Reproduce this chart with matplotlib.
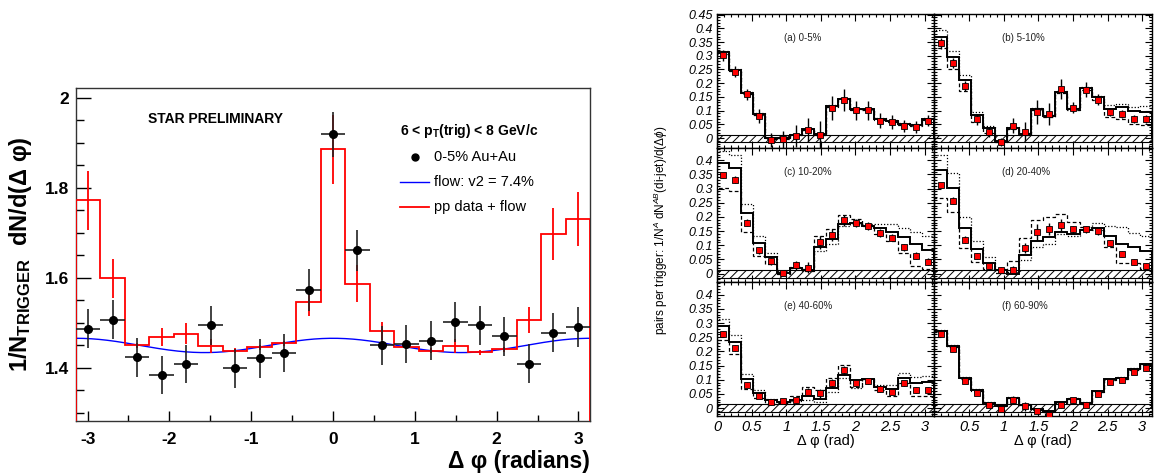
import numpy as np
import matplotlib.pyplot as plt
from matplotlib.ticker import MultipleLocator, FixedLocator, FuncFormatter

plt.rcParams['font.family'] = ['Liberation Sans', 'DejaVu Sans']
plt.rcParams['mathtext.fontset'] = 'custom'
plt.rcParams['mathtext.rm'] = 'Liberation Sans'
plt.rcParams['mathtext.it'] = 'Liberation Sans:italic'
plt.rcParams['mathtext.bf'] = 'Liberation Sans:bold'
plt.rcParams['hatch.linewidth'] = 0.7

# ---- left panel: 0-5% Au+Au, 6 < pT(trig) < 8 GeV/c, 21 bins over [-pi, pi]
auau_y = [1.487, 1.507, 1.423, 1.383, 1.408, 1.494, 1.399, 1.421, 1.433, 1.573, 1.919,
          1.661, 1.450, 1.453, 1.460, 1.502, 1.494, 1.470, 1.409, 1.478, 1.491]
auau_err = [0.043, 0.044, 0.043, 0.042, 0.043, 0.043, 0.043, 0.043, 0.043, 0.046, 0.050,
            0.046, 0.043, 0.043, 0.043, 0.045, 0.043, 0.043, 0.043, 0.043, 0.045]
pp_flow_y = [1.772, 1.599, 1.450, 1.469, 1.476, 1.448, 1.438, 1.445, 1.454, 1.545, 1.885,
             1.587, 1.482, 1.447, 1.438, 1.448, 1.434, 1.441, 1.506, 1.697, 1.730]
pp_flow_err = [0.065, 0.043, 0.006, 0.020, 0.023, 0.015, 0.006, 0.006, 0.006, 0.030, 0.077,
               0.042, 0.020, 0.006, 0.006, 0.015, 0.006, 0.006, 0.028, 0.057, 0.060]
flow_v2 = 0.074
flow_base = 1.4495

# ---- right panels: di-jet pairs per trigger, 18 bins over [0, pi]
a_data = [0.301, 0.242, 0.160, 0.081, -0.008, -0.005, 0.008, 0.030, 0.012, 0.110, 0.139,
          0.101, 0.101, 0.064, 0.060, 0.044, 0.040, 0.064]
a_err = [0.02, 0.02, 0.02, 0.025, 0.025, 0.03, 0.04, 0.045, 0.05, 0.045, 0.04, 0.035,
         0.035, 0.027, 0.025, 0.022, 0.022, 0.02]
a_model = [0.312, 0.248, 0.165, 0.087, 0.0, 0.0, 0.012, 0.032, 0.014, 0.117, 0.143,
           0.105, 0.105, 0.069, 0.063, 0.050, 0.048, 0.071]
a_upper = [0.318, 0.252, 0.169, 0.090, 0.002, 0.002, 0.014, 0.034, 0.016, 0.119, 0.145,
           0.107, 0.107, 0.072, 0.066, 0.054, 0.052, 0.075]
a_lower = [0.306, 0.244, 0.161, 0.084, -0.002, -0.002, 0.010, 0.030, 0.012, 0.115, 0.141,
           0.103, 0.103, 0.066, 0.060, 0.046, 0.044, 0.067]

b_data = [0.345, 0.274, 0.190, 0.069, 0.021, -0.014, 0.045, 0.023, 0.095, 0.089, 0.179,
          0.111, 0.177, 0.139, 0.095, 0.087, 0.069, 0.069]
b_err = [0.02, 0.018, 0.018, 0.02, 0.018, 0.015, 0.027, 0.035, 0.045, 0.04, 0.037, 0.02,
         0.028, 0.02, 0.015, 0.015, 0.015, 0.015]
b_model = [0.369, 0.295, 0.211, 0.083, 0.036, -0.010, 0.038, 0.014, 0.107, 0.081, 0.167,
           0.107, 0.181, 0.149, 0.107, 0.113, 0.098, 0.095]
b_upper = [0.393, 0.318, 0.229, 0.095, 0.043, -0.006, 0.041, 0.017, 0.110, 0.084, 0.170,
           0.111, 0.185, 0.155, 0.119, 0.125, 0.115, 0.117]
b_lower = [0.330, 0.252, 0.173, 0.060, 0.018, -0.013, 0.034, 0.011, 0.103, 0.077, 0.163,
           0.102, 0.176, 0.140, 0.077, 0.069, 0.050, 0.048]

c_data = [0.346, 0.331, 0.180, 0.082, 0.043, 0.002, 0.029, 0.021, 0.110, 0.136, 0.188,
          0.178, 0.167, 0.143, 0.126, 0.093, 0.063, 0.041]
c_err = [0.01, 0.012, 0.012, 0.012, 0.012, 0.012, 0.015, 0.018, 0.023, 0.02, 0.02, 0.015,
         0.015, 0.015, 0.012, 0.012, 0.012, 0.012]
c_model = [0.390, 0.373, 0.215, 0.107, 0.058, 0.003, 0.021, 0.012, 0.093, 0.122, 0.173,
           0.177, 0.168, 0.161, 0.146, 0.128, 0.103, 0.084]
c_upper = [0.434, 0.420, 0.247, 0.134, 0.072, 0.005, 0.024, 0.015, 0.079, 0.105, 0.166,
           0.175, 0.175, 0.173, 0.173, 0.161, 0.146, 0.131]
c_lower = [0.301, 0.292, 0.147, 0.062, 0.033, -0.003, 0.018, 0.009, 0.131, 0.157, 0.206,
           0.192, 0.167, 0.138, 0.114, 0.072, 0.026, 0.017]

d_data = [0.311, 0.257, 0.120, 0.061, 0.027, 0.014, 0.014, 0.089, 0.146, 0.157, 0.171,
          0.156, 0.156, 0.149, 0.108, 0.068, 0.041, 0.027]
d_err = [0.01, 0.012, 0.012, 0.01, 0.01, 0.01, 0.012, 0.018, 0.027, 0.02, 0.02, 0.012,
         0.012, 0.012, 0.01, 0.01, 0.01, 0.01]
d_model = [0.366, 0.303, 0.160, 0.087, 0.038, 0.012, 0.000, 0.064, 0.114, 0.128, 0.148,
           0.138, 0.154, 0.161, 0.134, 0.105, 0.093, 0.079]
d_upper = [0.420, 0.356, 0.198, 0.114, 0.058, 0.017, 0.004, 0.047, 0.095, 0.105, 0.138,
           0.131, 0.157, 0.177, 0.166, 0.163, 0.142, 0.134]
d_lower = [0.266, 0.216, 0.090, 0.041, 0.017, 0.002, 0.043, 0.126, 0.189, 0.198, 0.210,
           0.181, 0.163, 0.154, 0.093, 0.037, 0.037, 0.017]

e_data = [0.263, 0.211, 0.083, 0.042, 0.020, 0.025, 0.027, 0.058, 0.052, 0.087, 0.133,
          0.089, 0.095, 0.068, 0.058, 0.087, 0.064, 0.064]
e_err = [0.01, 0.01, 0.01, 0.008, 0.008, 0.008, 0.01, 0.012, 0.015, 0.015, 0.015, 0.01,
         0.01, 0.01, 0.01, 0.01, 0.01, 0.01]
e_model = [0.291, 0.234, 0.101, 0.053, 0.027, 0.020, 0.027, 0.044, 0.032, 0.071, 0.116,
           0.099, 0.101, 0.075, 0.068, 0.107, 0.089, 0.091]
e_upper = [0.315, 0.259, 0.121, 0.065, 0.032, 0.022, 0.024, 0.030, 0.020, 0.056, 0.107,
           0.071, 0.103, 0.083, 0.083, 0.125, 0.110, 0.113]
e_lower = [0.240, 0.190, 0.068, 0.036, 0.015, 0.018, 0.042, 0.075, 0.063, 0.107, 0.151,
           0.075, 0.101, 0.065, 0.042, 0.089, 0.042, 0.042]

f_data = [0.261, 0.208, 0.097, 0.053, 0.011, -0.002, 0.030, 0.006, -0.009, -0.025, 0.012,
          0.027, 0.011, 0.051, 0.091, 0.100, 0.127, 0.140]
f_err = [0.008, 0.008, 0.008, 0.008, 0.008, 0.008, 0.012, 0.015, 0.01, 0.008, 0.01, 0.01,
         0.008, 0.008, 0.008, 0.008, 0.008, 0.008]
f_model = [0.273, 0.220, 0.107, 0.063, 0.018, 0.008, 0.036, 0.012, -0.004, -0.012, 0.020,
           0.033, 0.018, 0.059, 0.101, 0.107, 0.139, 0.154]
f_upper = [0.277, 0.224, 0.111, 0.066, 0.021, 0.010, 0.038, 0.014, -0.002, -0.010, 0.022,
           0.035, 0.020, 0.061, 0.104, 0.110, 0.142, 0.157]
f_lower = [0.269, 0.216, 0.103, 0.060, 0.015, 0.006, 0.034, 0.010, -0.006, -0.014, 0.018,
           0.031, 0.016, 0.057, 0.098, 0.104, 0.136, 0.151]

panel_labels = ['(a) 0-5%', '(b) 5-10%', '(c) 10-20%', '(d) 20-40%', '(e) 40-60%', '(f) 60-90%']
zyam_lo, zyam_hi = -0.015, 0.013
row_ylims = [(-0.036, 0.452), (-0.030, 0.443), (-0.028, 0.445)]


def fmt_num(v, p):
    return '%g' % round(v, 2)


def fmt_no_zero(v, p):
    return '' if abs(v) < 1e-9 else '%g' % round(v, 2)


fig = plt.figure(figsize=(11.54, 4.74), dpi=100)

# ================= left panel =================
ax = fig.add_axes([76 / 1154, 1 - 421 / 474, (590 - 76) / 1154, (421 - 88) / 474])
edges_l = np.linspace(-np.pi, np.pi, len(auau_y) + 1)
cent_l = 0.5 * (edges_l[:-1] + edges_l[1:])
halfw_l = 0.5 * (edges_l[1] - edges_l[0])

xx = np.linspace(-np.pi, np.pi, 400)
ax.plot(xx, flow_base * (1 + 2 * flow_v2 ** 2 * np.cos(2 * xx)), color='#0000ff', lw=1.0, zorder=2)
ax.stairs(pp_flow_y, edges_l, baseline=0, color='#ff0000', lw=1.3, zorder=3)
ax.errorbar(cent_l, pp_flow_y, yerr=pp_flow_err, fmt='none', ecolor='#ff0000', elinewidth=1.3, zorder=3)
ax.errorbar(cent_l, auau_y, yerr=auau_err, xerr=halfw_l, fmt='o', color='black', ms=5.5,
            ecolor='#222222', elinewidth=1.2, capsize=0, zorder=4)

ax.set_xlim(-np.pi, np.pi)
ax.set_ylim(1.2816, 2.0215)
ax.xaxis.set_major_locator(MultipleLocator(1))
ax.xaxis.set_minor_locator(MultipleLocator(0.5))
ax.yaxis.set_major_locator(FixedLocator([1.4, 1.6, 1.8, 2.0]))
ax.yaxis.set_minor_locator(MultipleLocator(0.05))
ax.yaxis.set_major_formatter(FuncFormatter(fmt_num))
ax.xaxis.set_major_formatter(FuncFormatter(fmt_num))
ax.tick_params(axis='y', which='major', direction='in', length=11, width=1, pad=5, labelsize=12.5)
ax.tick_params(axis='y', which='minor', direction='in', length=5.5, width=1)
ax.tick_params(axis='x', which='major', direction='in', length=7, width=1, pad=8, labelsize=12.5)
ax.tick_params(axis='x', which='minor', direction='in', length=4, width=1)
for s in ax.spines.values():
    s.set_linewidth(1.0)
    s.set_color('#333333')

ax.set_ylabel(r'1/N$_{\mathbf{TRIGGER}}$  dN/d(Δ φ)', fontsize=17, fontweight='bold', labelpad=8)
ax.set_xlabel('Δ φ (radians)', fontsize=16.5, fontweight='bold', loc='right', labelpad=2)

ax.text(0.271, 0.907, 'STAR PRELIMINARY', transform=ax.transAxes, ha='center', va='center',
        fontsize=10, fontweight='bold')
ax.text(0.630, 0.871, r'6 < p$_{\mathbf{T}}$(trig) < 8 GeV/c', transform=ax.transAxes,
        ha='left', va='center', fontsize=10, fontweight='bold')
ax.plot([0.660], [0.793], 'o', color='black', ms=5, transform=ax.transAxes, clip_on=False)
ax.plot([0.630, 0.687], [0.718, 0.718], color='#0000ff', lw=1.0, transform=ax.transAxes)
ax.plot([0.630, 0.687], [0.643, 0.643], color='#ff0000', lw=1.3, transform=ax.transAxes)
for yy, txt in zip([0.793, 0.718, 0.643], ['0-5% Au+Au', 'flow: v2 = 7.4%', 'pp data + flow']):
    ax.text(0.697, yy, txt, transform=ax.transAxes, ha='left', va='center', fontsize=10.5)

# ================= right panels =================
gs = fig.add_gridspec(3, 2, left=717 / 1154, right=1152 / 1154, top=1 - 14 / 474,
                      bottom=1 - 416 / 474, hspace=0, wspace=0)
edges_r = np.linspace(0, np.pi, 19)
cent_r = 0.5 * (edges_r[:-1] + edges_r[1:])
datasets = [
    (a_data, a_err, a_model, a_upper, a_lower),
    (b_data, b_err, b_model, b_upper, b_lower),
    (c_data, c_err, c_model, c_upper, c_lower),
    (d_data, d_err, d_model, d_upper, d_lower),
    (e_data, e_err, e_model, e_upper, e_lower),
    (f_data, f_err, f_model, f_upper, f_lower),
]
right_axes = []
for k, (data, err, model, upper, lower) in enumerate(datasets):
    row, col = divmod(k, 2)
    a = fig.add_subplot(gs[row, col])
    right_axes.append(a)
    a.fill_between([0, np.pi], zyam_lo, zyam_hi, facecolor='white', edgecolor='black',
                   hatch='////', lw=0.8, zorder=1)
    a.stairs(upper, edges_r, color='black', lw=0.9, linestyle=(0, (1, 1.5)), zorder=2)
    a.stairs(lower, edges_r, color='black', lw=0.9, linestyle=(0, (3, 2)), zorder=2)
    a.stairs(model, edges_r, color='black', lw=1.4, zorder=3)
    a.errorbar(cent_r, data, yerr=err, fmt='s', mfc='#ff0000', mec='black', mew=0.6, ms=5,
               ecolor='black', elinewidth=1.0, capsize=0, zorder=4)
    a.set_xlim(0, np.pi)
    a.set_ylim(*row_ylims[row])
    a.text(0.31, 0.82, panel_labels[k], transform=a.transAxes, ha='left', va='center',
           fontsize=7, color='#222222')

    top_tick = 0.45 if row == 0 else 0.40
    a.yaxis.set_major_locator(FixedLocator(np.round(np.arange(0, top_tick + 0.001, 0.05), 2)))
    a.yaxis.set_minor_locator(MultipleLocator(0.01))
    a.xaxis.set_major_locator(MultipleLocator(0.5))
    a.xaxis.set_minor_locator(MultipleLocator(0.1))
    a.yaxis.set_major_formatter(FuncFormatter(fmt_num))
    a.xaxis.set_major_formatter(FuncFormatter(fmt_no_zero if col == 1 else fmt_num))
    a.tick_params(which='both', direction='in', top=True, right=True, width=0.8)
    a.tick_params(which='major', length=5)
    a.tick_params(which='minor', length=2.5)
    a.tick_params(axis='y', labelsize=9, pad=3, labelleft=(col == 0))
    a.tick_params(axis='x', labelsize=10.5, pad=3, labelbottom=(row == 2))
    for s in a.spines.values():
        s.set_linewidth(1.0)
    if row == 2:
        a.set_xlabel('Δ φ (rad)', fontsize=10.5, labelpad=0)

fig.text(661 / 1154, 1 - 230 / 474,
         r'pairs per trigger: 1/N$^{A}$ dN$^{AB}$(di-jet)/d($\Delta\phi$)',
         rotation=90, ha='center', va='center', fontsize=8.5)

# tick label styles (bold on the left, italic on the right)
fig.canvas.draw()
for lab in ax.get_xticklabels() + ax.get_yticklabels():
    lab.set_fontweight('bold')
for a in right_axes:
    for lab in a.get_xticklabels() + a.get_yticklabels():
        lab.set_fontstyle('italic')

fig.savefig('out.png', dpi=100)
